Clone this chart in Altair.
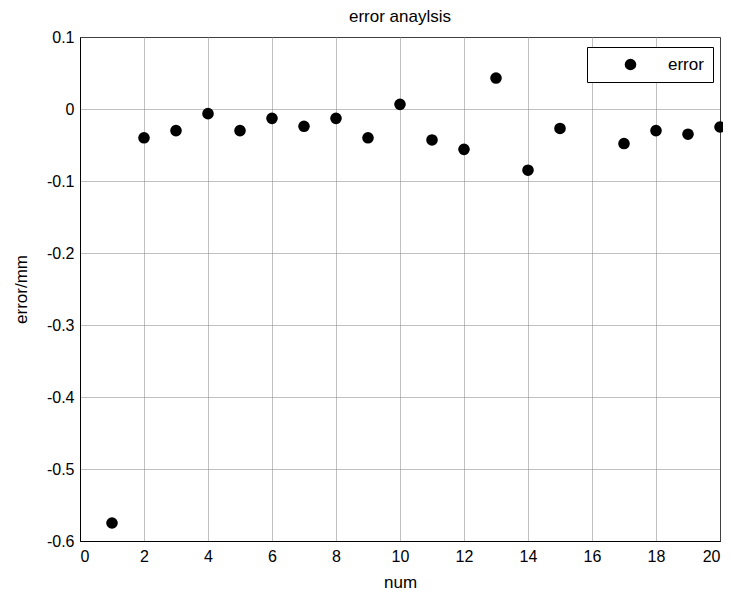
import altair as alt
import pandas as pd

num = [1, 2, 3, 4, 5, 6, 7, 8, 9, 10, 11, 12, 13, 14, 15, 17, 18, 19, 20]
err = [-0.575, -0.040, -0.030, -0.0065, -0.030, -0.013, -0.024, -0.013, -0.040,
       0.0065, -0.043, -0.056, 0.043, -0.085, -0.027, -0.048, -0.030, -0.035, -0.025]
series = ["error"] * len(num)

x_ticks = list(range(0, 21, 2))
y_ticks = [0.1, 0, -0.1, -0.2, -0.3, -0.4, -0.5, -0.6]

df = pd.DataFrame({"num": num, "err": err, "s": series})

FONT = "Liberation Sans"

chart = alt.Chart(df).mark_point(filled=True, opacity=1, size=135, shape="circle").encode(
    x=alt.X("num:Q", scale=alt.Scale(domain=[0, 20], nice=False, zero=False),
            axis=alt.Axis(values=x_ticks, title="num", grid=True, ticks=False,
                          labelPadding=7, titlePadding=10, format="d")),
    y=alt.Y("err:Q", scale=alt.Scale(domain=[-0.6, 0.1], nice=False, zero=False),
            axis=alt.Axis(values=y_ticks, title="error/mm", grid=True, ticks=False,
                          labelPadding=6, titlePadding=16,
                          labelExpr="datum.value == 0 ? '0' : toString(round(datum.value*10)/10)")),
    color=alt.Color("s:N", scale=alt.Scale(range=["black"]),
                    legend=alt.Legend(title=None, orient="none", legendX=507, legendY=10,
                                      fillColor="white", strokeColor="black",
                                      padding=9, symbolOffset=26, labelOffset=29,
                                      symbolSize=135, symbolType="circle",
                                      labelFontSize=17, labelFont=FONT, labelColor="black",
                                      symbolStrokeWidth=0, rowPadding=0)),
).properties(
    width=640, height=504,
    title=alt.TitleParams("error anaylsis", font=FONT, fontSize=17, fontWeight="normal",
                          color="black", offset=3),
    autosize=alt.AutoSizeParams(type="none"),
    padding={"left": 72, "top": 29, "right": 3, "bottom": 50},
).configure_view(
    stroke="black", strokeWidth=1
).configure_axis(
    labelFont=FONT, labelFontSize=16, labelColor="black",
    titleFont=FONT, titleFontSize=17, titleFontWeight="normal", titleColor="black",
    domainColor="black", domainWidth=1,
    gridColor="#808080", gridDash=[1, 1], gridOpacity=1, gridWidth=1,
)

chart.save("out.html", embed_options={"renderer": "svg", "actions": False})
